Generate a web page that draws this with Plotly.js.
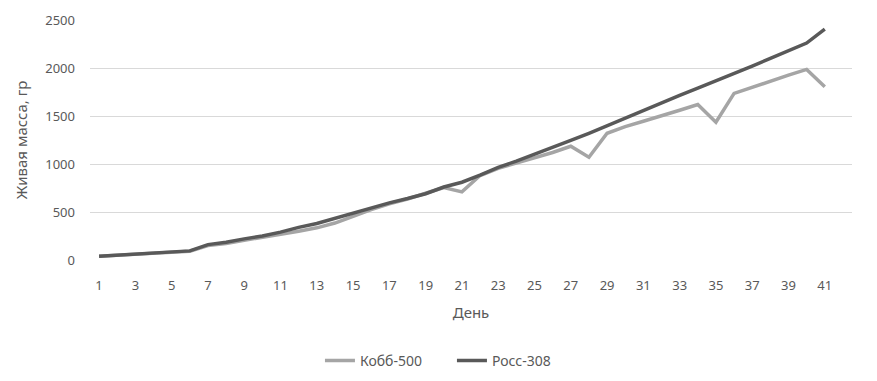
<!DOCTYPE html>
<html>
<head>
<meta charset="utf-8">
<script src="https://cdn.plot.ly/plotly-3.0.1.min.js"></script>
<style>html,body{margin:0;padding:0;background:#fff;}#chart{width:877px;height:381px;}</style>
</head>
<body>
<div id="chart"></div>
<script>
const days = Array.from({length: 41}, (_, i) => i + 1);
const tickDays = [1,3,5,7,9,11,13,15,17,19,21,23,25,27,29,31,33,35,37,39,41];
const cobb = [40,50,60,72,82,92,150,172,205,235,265,300,335,385,455,525,585,635,695,755,710,880,955,1010,1060,1120,1185,1070,1320,1390,1445,1500,1560,1620,1435,1735,1800,1865,1925,1985,1805];
const ross = [40,50,62,75,85,95,160,185,220,250,290,340,380,435,490,545,595,640,690,760,810,885,965,1030,1100,1170,1245,1320,1400,1480,1560,1640,1715,1790,1865,1945,2020,2100,2180,2260,2405];
const seriesNames = ['Кобб-500', 'Росс-308'];

const font = 'Noto Sans, Open Sans, sans-serif';
const txt = '#595959';

Plotly.newPlot('chart', [
  {x: days, y: cobb, name: seriesNames[0], mode: 'lines', line: {color: '#a5a5a5', width: 3.5}},
  {x: days, y: ross, name: seriesNames[1], mode: 'lines', line: {color: '#595959', width: 3.5}}
], {
  width: 877, height: 381,
  margin: {l: 90, r: 25, t: 20, b: 121, autoexpand: false},
  paper_bgcolor: '#fff', plot_bgcolor: '#fff',
  font: {family: font, color: txt, size: 13},
  showlegend: true,
  legend: {orientation: 'h', x: 0.475, xanchor: 'center', y: -0.42, yanchor: 'middle',
           entrywidth: 87, font: {size: 14, color: txt}},
  xaxis: {
    range: [0.5, 42.5], tickvals: tickDays, ticktext: tickDays.map(String),
    showgrid: false, zeroline: false, showline: false, ticks: '',
    ticklabelstandoff: 16, automargin: false,
    tickfont: {size: 13, color: txt},
    title: {text: 'День', font: {size: 15, color: txt}, standoff: 14}
  },
  yaxis: {
    range: [0, 2500], dtick: 500, tick0: 0,
    showgrid: true, gridcolor: '#d9d9d9', gridwidth: 1,
    zeroline: false, showline: false, ticks: '', ticklabelstandoff: 14, automargin: false,
    tickfont: {size: 13, color: txt},
    title: {text: 'Живая масса, гр', font: {size: 15, color: txt}, standoff: 14}
  }
}, {staticPlot: true});
</script>
</body>
</html>
